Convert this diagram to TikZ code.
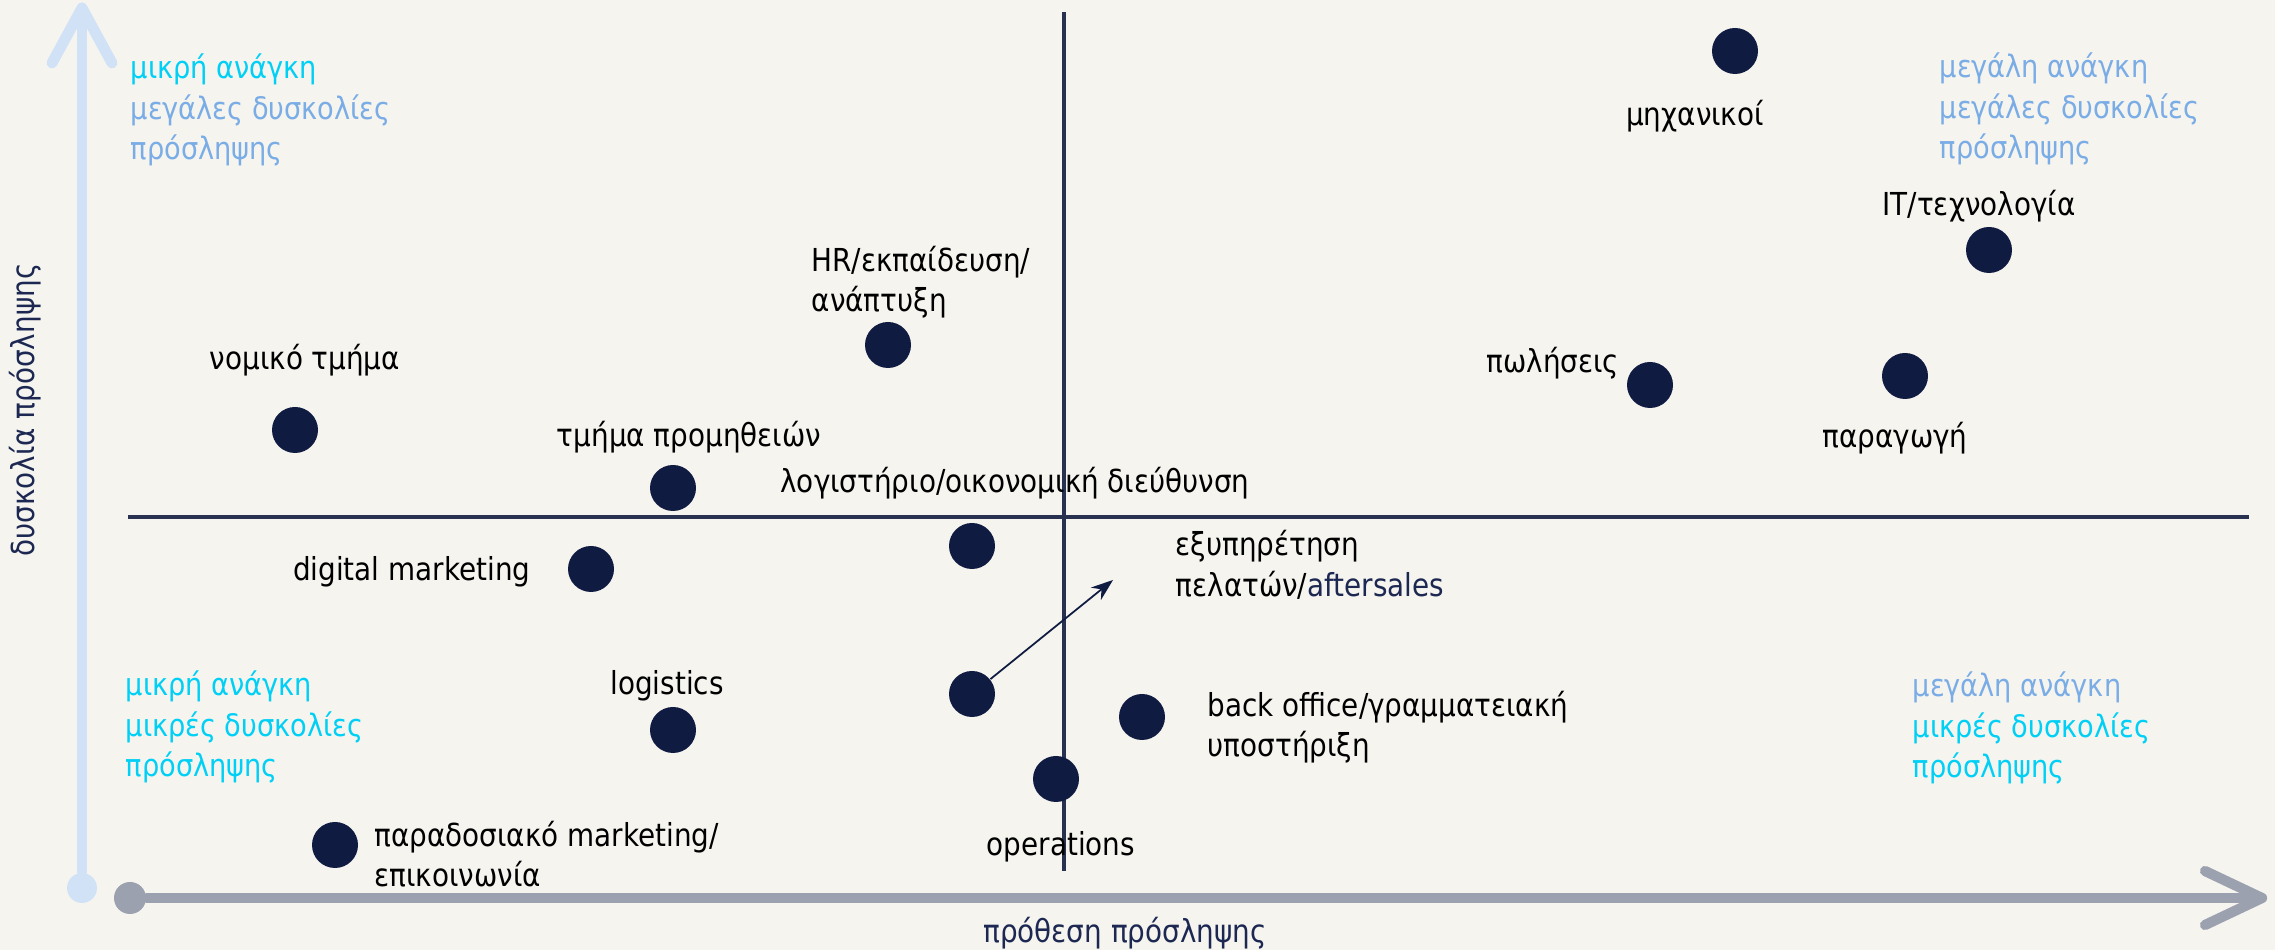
\documentclass[tikz,border=0pt]{standalone}
\usepackage{fontspec}
\setmainfont{DejaVu Sans}[FakeStretch=0.88]
\usepackage{xcolor}
\usetikzlibrary{arrows.meta,positioning}
\definecolor{bgpaper}{RGB}{245,244,239}
\definecolor{dotnavy}{RGB}{16,27,66}
\definecolor{linenavy}{RGB}{40,50,80}
\definecolor{axisgray}{RGB}{156,161,176}
\definecolor{axisblue}{RGB}{210,226,246}
\definecolor{quadcyan}{RGB}{0,208,245}
\definecolor{quadblue}{RGB}{122,172,230}
\definecolor{labnavy}{RGB}{28,40,82}
\tikzset{
  % department points
  deptdot/.style  = {circle, fill=dotnavy, inner sep=0pt, minimum size=4.6mm},
  % labels
  deptlab/.style  = {font=\fontsize{9}{11.5}\selectfont, inner sep=0pt, align=left, text=black},
  quadlab/.style  = {font=\fontsize{8.8}{11.5}\selectfont, inner sep=0pt, align=left, anchor=west},
  axislab/.style  = {font=\fontsize{9}{11}\selectfont, inner sep=0pt, text=labnavy},
  % lines
  quadline/.style = {draw=linenavy, line width=1pt},
  xaxis/.style    = {draw=axisgray, line width=2.9pt, line cap=round, line join=round},
  yaxis/.style    = {draw=axisblue, line width=3.1pt, line cap=round, line join=round},
  pointer/.style  = {-{Stealth[length=2.2mm,width=1.6mm]}, draw=dotnavy, line width=0.5pt},
}
\begin{document}
\begin{tikzpicture}[x=0.1mm, y=-0.1mm]
  % background
  \fill[bgpaper] (0,0) rectangle (2275,950);
  \useasboundingbox (0,0) rectangle (2275,950);
  % axes
  \node[circle, fill=axisblue, inner sep=0pt, minimum size=3mm] (ybase) at (82,888) {};
  \coordinate (ytip) at (82,8);
  \draw[yaxis] (ybase) -- (ytip);
  \draw[yaxis] (52,63) -- (ytip) -- (112,63);
  \node[circle, fill=axisgray, inner sep=0pt, minimum size=3.2mm] (xbase) at (130,898) {};
  \coordinate (xtip) at (2262,898);
  \draw[xaxis] (xbase) -- (xtip);
  \draw[xaxis] (2205,871) -- (xtip) -- (2205,925);
  \node[axislab, rotate=90] (ylab) at (25,410) {δυσκολία πρόσληψης};
  \node[axislab] (xlab) at (1125,933) {πρόθεση πρόσληψης};
  % quadrant lines
  \draw[quadline] (1064,12) -- (1064,871);
  \draw[quadline] (128,517) -- (2249,517);
  % quadrant texts
  \node[quadlab, text=quadblue] (tlquad) at (130,110) {\textcolor{quadcyan}{μικρή ανάγκη}\\μεγάλες δυσκολίες\\πρόσληψης};
  \node[quadlab, text=quadblue] (trquad) at (1939,109) {μεγάλη ανάγκη\\μεγάλες δυσκολίες\\πρόσληψης};
  \node[quadlab, text=quadcyan] (blquad) at (125,727) {μικρή ανάγκη\\μικρές δυσκολίες\\πρόσληψης};
  \node[quadlab, text=quadcyan] (brquad) at (1912,728) {\textcolor{quadblue}{μεγάλη ανάγκη}\\μικρές δυσκολίες\\πρόσληψης};
  % points
  \node[deptdot] (mechdot) at (1735,51) {};
  \node[deptdot] (itdot) at (1989,250) {};
  \node[deptdot] (salesdot) at (1650,385) {};
  \node[deptdot] (proddot) at (1905,376) {};
  \node[deptdot] (hrdot) at (888,345) {};
  \node[deptdot] (legaldot) at (295,430) {};
  \node[deptdot] (procurdot) at (673,488) {};
  \node[deptdot] (accdot) at (972,546) {};
  \node[deptdot] (dmdot) at (591,569) {};
  \node[deptdot] (custdot) at (972,694) {};
  \node[deptdot] (logdot) at (673,730) {};
  \node[deptdot] (backdot) at (1142,717) {};
  \node[deptdot] (opsdot) at (1056,779) {};
  \node[deptdot] (traddot) at (335,845) {};
  % labels
  \node[deptlab] (mechlab) at (1695,116) {μηχανικοί};
  \node[deptlab] (itlab) at (1979,206) {IT/τεχνολογία};
  \node[deptlab] (saleslab) at (1553,363) {πωλήσεις};
  \node[deptlab] (prodlab) at (1895,438) {παραγωγή};
  \node[deptlab, anchor=west] (hrlab) at (811,282) {HR/εκπαίδευση/\\ανάπτυξη};
  \node[deptlab] (legallab) at (305,360) {νομικό τμήμα};
  \node[deptlab] (procurlab) at (689,437) {τμήμα προμηθειών};
  \node[deptlab] (acclab) at (1015,483) {λογιστήριο/οικονομική διεύθυνση};
  \node[deptlab, anchor=east] (dmlab) at (531,572) {digital marketing};
  \node[deptlab, anchor=west] (custlab) at (1175,565) {εξυπηρέτηση\\πελατών/\textcolor{labnavy}{aftersales}};
  \node[deptlab] (loglab) at (667,686) {logistics};
  \node[deptlab, anchor=west] (backlab) at (1207,727) {back office/γραμματειακή\\υποστήριξη};
  \node[deptlab] (opslab) at (1061,847) {operations};
  \node[deptlab, anchor=west] (tradlab) at (374,854) {παραδοσιακό marketing/\\επικοινωνία};
  % pointer to customer service
  \coordinate (custtip) at (1113,580);
  \draw[pointer] (custdot) -- (custtip);
\end{tikzpicture}
\end{document}
